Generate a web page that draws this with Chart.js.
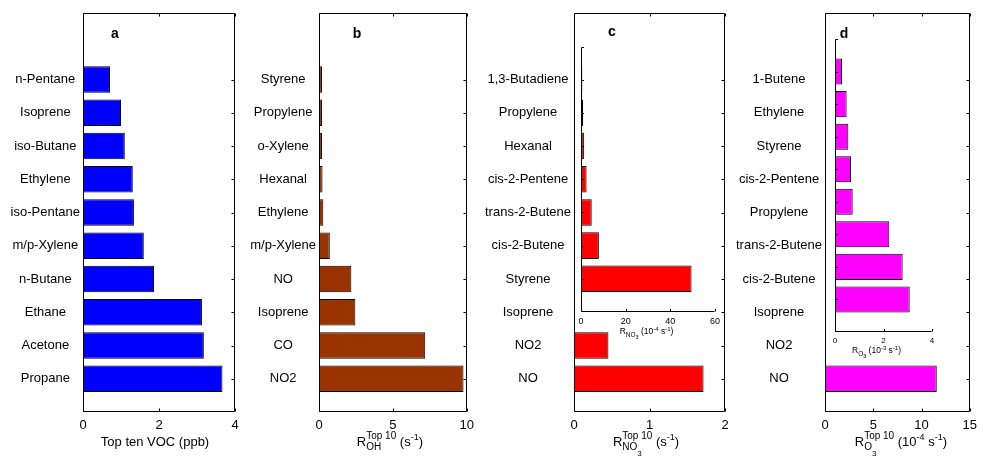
<!DOCTYPE html>
<html>
<head>
<meta charset="utf-8">
<script src="https://cdn.jsdelivr.net/npm/chart.js@4"></script>
<style>
  body { margin: 0; background: #fff; overflow: hidden; }
  #wrap { position: relative; width: 983px; height: 462px; }
  canvas { position: absolute; }
</style>
</head>
<body>
<div id="wrap">
  <canvas id="panelA" width="245" height="462" style="left:0px;top:0px"></canvas>
  <canvas id="panelB" width="240" height="462" style="left:240px;top:0px"></canvas>
  <canvas id="panelC" width="255" height="462" style="left:480px;top:0px"></canvas>
  <canvas id="panelD" width="253" height="462" style="left:730px;top:0px"></canvas>
  <canvas id="insetC" width="160" height="305" style="left:571px;top:40px"></canvas>
  <canvas id="insetD" width="140" height="335" style="left:825px;top:30px"></canvas>
</div>
<script>
// ---- Data ----
const vocLabels = ["n-Pentane", "Isoprene", "iso-Butane", "Ethylene", "iso-Pentane", "m/p-Xylene", "n-Butane", "Ethane", "Acetone", "Propane"];
const vocValues = [0.71, 1.00, 1.10, 1.31, 1.34, 1.60, 1.87, 3.13, 3.18, 3.67];
const vocTicks = [0, 2, 4];

const ohLabels = ["Styrene", "Propylene", "o-Xylene", "Hexanal", "Ethylene", "m/p-Xylene", "NO", "Isoprene", "CO", "NO2"];
const ohValues = [0.20, 0.20, 0.20, 0.24, 0.29, 0.73, 2.19, 2.46, 7.19, 9.78];
const ohTicks = [0, 5, 10];

const no3Labels = ["1,3-Butadiene", "Propylene", "Hexanal", "cis-2-Pentene", "trans-2-Butene", "cis-2-Butene", "Styrene", "Isoprene", "NO2", "NO"];
const no3Values = [null, null, null, null, null, null, null, 0.004, 0.456, 1.716];
const no3Ticks = [0, 1, 2];

// inset of panel c, units 10^-4 s^-1
const no3InsetLabels = ["1,3-Butadiene", "Propylene", "Hexanal", "cis-2-Pentene", "trans-2-Butene", "cis-2-Butene", "Styrene"];
const no3InsetValues = [0.6, 0.9, 1.3, 2.5, 4.8, 8.0, 49.5];
const no3InsetTicks = [0, 20, 40, 60];

const o3Labels = ["1-Butene", "Ethylene", "Styrene", "cis-2-Pentene", "Propylene", "trans-2-Butene", "cis-2-Butene", "Isoprene", "NO2", "NO"];
const o3Values = [null, null, null, null, null, null, null, null, 0.08, 11.58];
const o3Ticks = [0, 5, 10, 15];

// inset of panel d, units 10^-3 s^-1
const o3InsetLabels = ["1-Butene", "Ethylene", "Styrene", "cis-2-Pentene", "Propylene", "trans-2-Butene", "cis-2-Butene", "Isoprene"];
const o3InsetValues = [0.29, 0.48, 0.55, 0.66, 0.73, 2.24, 2.79, 3.08];
const o3InsetTicks = [0, 2, 4];

Chart.defaults.font.family = '"Liberation Sans", Arial, sans-serif';
Chart.defaults.color = "#000";

// empty rows above / below so the bars sit like the original axes
function padRows(arr, before, after, fill) {
  return [...Array(before).fill(fill), ...arr, ...Array(after).fill(fill)];
}

// ---- Helpers ----
// draws text with sub/superscripts; seg.at: "cur" | "mark" | "max"
function drawRich(ctx, cx, y, segs, family) {
  const layout = [];
  let x = 0, maxX = 0, markX = 0;
  segs.forEach(s => {
    if (s.at === "mark") x = markX;
    if (s.at === "max") x = maxX;
    if (s.mark) markX = x;
    ctx.font = s.size + "px " + family;
    layout.push({ s, x });
    x += ctx.measureText(s.t).width;
    maxX = Math.max(maxX, x);
  });
  const x0 = cx - maxX / 2;
  ctx.textAlign = "left";
  ctx.textBaseline = "alphabetic";
  layout.forEach(({ s, x }) => {
    ctx.font = s.size + "px " + family;
    ctx.fillText(s.t, x0 + x, y + (s.dy || 0));
  });
}

const framePlugin = {
  id: "frame",
  afterDatasetsDraw(chart, args, opts) {
    const { ctx, chartArea: a, scales: { x, y } } = chart;
    const L = Math.round(a.left) + 0.5, R = Math.round(a.right) - 0.5;
    const T = Math.round(a.top) + 0.5, B = Math.round(a.bottom) - 0.5;
    const tl = opts.tick || 3;
    ctx.save();
    ctx.strokeStyle = "#000";
    ctx.lineWidth = 1;
    ctx.beginPath();
    if (opts.box) {
      ctx.rect(L, T, R - L, B - T);
    } else {
      ctx.moveTo(L, T); ctx.lineTo(L, B); ctx.lineTo(R, B);
      ctx.moveTo(L, T); ctx.lineTo(L + tl, T);
    }
    x.ticks.forEach(t => {
      const px = Math.round(x.getPixelForValue(t.value)) + 0.5;
      ctx.moveTo(px, B); ctx.lineTo(px, B - tl);
      if (opts.box) { ctx.moveTo(px, T); ctx.lineTo(px, T + tl); }
    });
    chart.data.labels.forEach((lab, i) => {
      if (lab === "") return;
      const py = Math.round(y.getPixelForValue(i)) + 0.5;
      if (opts.box) { ctx.moveTo(R, py); ctx.lineTo(R - tl, py); }
      else { ctx.moveTo(L, py); ctx.lineTo(L + tl, py); }
    });
    ctx.stroke();
    ctx.restore();
  }
};

const titlePlugin = {
  id: "axisTitle",
  afterDraw(chart, args, opts) {
    if (!opts.segs) return;
    const { ctx, chartArea: a } = chart;
    ctx.save();
    ctx.fillStyle = "#000";
    const family = Chart.defaults.font.family;
    drawRich(ctx, (a.left + a.right) / 2 + (opts.dx || 0), a.bottom + opts.dy, opts.segs, family);
    if (opts.letter) {
      ctx.font = "bold 14px " + family;
      ctx.textAlign = "center";
      ctx.textBaseline = "alphabetic";
      ctx.fillText(opts.letter.t, opts.letter.x, opts.letter.y);
    }
    ctx.restore();
  }
};

function makeBarChart(id, c) {
  return new Chart(document.getElementById(id), {
    type: "bar",
    data: {
      labels: c.labels,
      datasets: [{
        data: c.values,
        backgroundColor: c.color,
        borderColor: "#000",
        borderWidth: 1,
        borderSkipped: false,
        barPercentage: 0.8,
        categoryPercentage: 1
      }]
    },
    options: {
      indexAxis: "y",
      responsive: false,
      animation: false,
      events: [],
      layout: { padding: c.pad },
      plugins: {
        legend: { display: false },
        tooltip: { enabled: false },
        frame: { box: c.box, tick: c.tick },
        axisTitle: c.title
      },
      scales: {
        y: {
          type: "category",
          offset: false,
          grid: { display: false, drawTicks: false },
          border: { display: false },
          ticks: { display: c.showLabels, autoSkip: false, crossAlign: "center", padding: 3, font: { size: 13 } },
          afterFit: s => { s.width = c.yW; }
        },
        x: {
          type: "linear",
          min: c.ticks[0],
          max: c.ticks[c.ticks.length - 1],
          grid: { display: false, drawTicks: false },
          border: { display: false },
          ticks: { padding: c.tickPad, font: { size: c.tickSize } },
          afterBuildTicks: s => { s.ticks = c.ticks.map(v => ({ value: v })); },
          afterFit: s => { s.height = c.xH; }
        }
      }
    },
    plugins: [framePlugin, titlePlugin]
  });
}

const subTitle = (sub, subsub, tail) => {
  const segs = [
    { t: "R", size: 13 },
    { t: sub, size: 10, dy: 4, mark: true }
  ];
  if (subsub) segs.push({ t: subsub, size: 8, dy: 10 });
  segs.push({ t: "Top 10", size: 10, dy: -7, at: "mark" });
  return segs.concat(tail);
};

// ---- Panels ----
makeBarChart("panelA", {
  labels: padRows(vocLabels, 2, 1, ""), values: padRows(vocValues, 2, 1, null),
  color: "#0000ff", ticks: vocTicks, yW: 83, xH: 50, box: true, showLabels: true,
  pad: { top: 13, right: 10, left: 0, bottom: 0 }, tickPad: 6, tickSize: 13,
  title: { segs: [{ t: "Top ten VOC (ppb)", size: 13 }], dy: 34, dx: -4, letter: { t: "a", x: 115, y: 38 } }
});

makeBarChart("panelB", {
  labels: padRows(ohLabels, 2, 1, ""), values: padRows(ohValues, 2, 1, null),
  color: "#993300", ticks: ohTicks, yW: 79, xH: 50, box: true, showLabels: true,
  pad: { top: 13, right: 10, left: 0, bottom: 0 }, tickPad: 6, tickSize: 13,
  title: {
    segs: subTitle("OH", "", [{ t: " (s", size: 13, at: "max" }, { t: "-1", size: 9, dy: -6 }, { t: ")", size: 13 }]),
    dy: 34, dx: -3, letter: { t: "b", x: 117, y: 38 }
  }
});

makeBarChart("panelC", {
  labels: padRows(no3Labels, 2, 1, ""), values: padRows(no3Values, 2, 1, null),
  color: "#ff0000", ticks: no3Ticks, yW: 94, xH: 50, box: true, showLabels: true,
  pad: { top: 13, right: 10, left: 0, bottom: 0 }, tickPad: 6, tickSize: 13,
  title: {
    segs: subTitle("NO", "3", [{ t: " (s", size: 13, at: "max" }, { t: "-1", size: 9, dy: -6 }, { t: ")", size: 13 }]),
    dy: 34, dx: -3.5, letter: { t: "c", x: 132, y: 36 }
  }
});

makeBarChart("panelD", {
  labels: padRows(o3Labels, 2, 1, ""), values: padRows(o3Values, 2, 1, null),
  color: "#ff00ff", ticks: o3Ticks, yW: 95, xH: 50, box: true, showLabels: true,
  pad: { top: 13, right: 7, left: 0, bottom: 0 }, tickPad: 6, tickSize: 13,
  title: {
    segs: subTitle("O", "3", [
      { t: " (10", size: 13, at: "max" }, { t: "-4", size: 9, dy: -6 },
      { t: " s", size: 13 }, { t: "-1", size: 9, dy: -6 }, { t: ")", size: 13 }
    ]),
    dy: 34, dx: 3.5, letter: { t: "d", x: 114, y: 38 }
  }
});

// ---- Insets ----
makeBarChart("insetC", {
  labels: padRows(no3InsetLabels, 1, 1, ""), values: padRows(no3InsetValues, 1, 1, null),
  color: "#ff0000", ticks: no3InsetTicks, yW: 0, xH: 33, box: false, showLabels: false, tick: 2.5,
  pad: { top: 6.5, right: 16, left: 10, bottom: 0 }, tickPad: 4, tickSize: 9,
  title: {
    segs: [
      { t: "R", size: 8.5 }, { t: "NO", size: 6.5, dy: 2.5 }, { t: "3", size: 5.5, dy: 5 },
      { t: " (10", size: 8.5 }, { t: "-4", size: 6, dy: -3.5 },
      { t: " s", size: 8.5 }, { t: "-1", size: 6, dy: -3.5 }, { t: ")", size: 8.5 }
    ],
    dy: 22, dx: -1.5
  }
});

makeBarChart("insetD", {
  labels: padRows(o3InsetLabels, 1, 1, ""), values: padRows(o3InsetValues, 1, 1, null),
  color: "#ff00ff", ticks: o3InsetTicks, yW: 0, xH: 33, box: false, showLabels: false, tick: 2.5,
  pad: { top: 9, right: 33, left: 10, bottom: 0 }, tickPad: 4, tickSize: 8,
  title: {
    segs: [
      { t: "R", size: 8.5 }, { t: "O", size: 6.5, dy: 2.5 }, { t: "3", size: 5.5, dy: 5 },
      { t: " (10", size: 8.5 }, { t: "-3", size: 6, dy: -3.5 },
      { t: " s", size: 8.5 }, { t: "-1", size: 6, dy: -3.5 }, { t: ")", size: 8.5 }
    ],
    dy: 21, dx: -7
  }
});
</script>
</body>
</html>
